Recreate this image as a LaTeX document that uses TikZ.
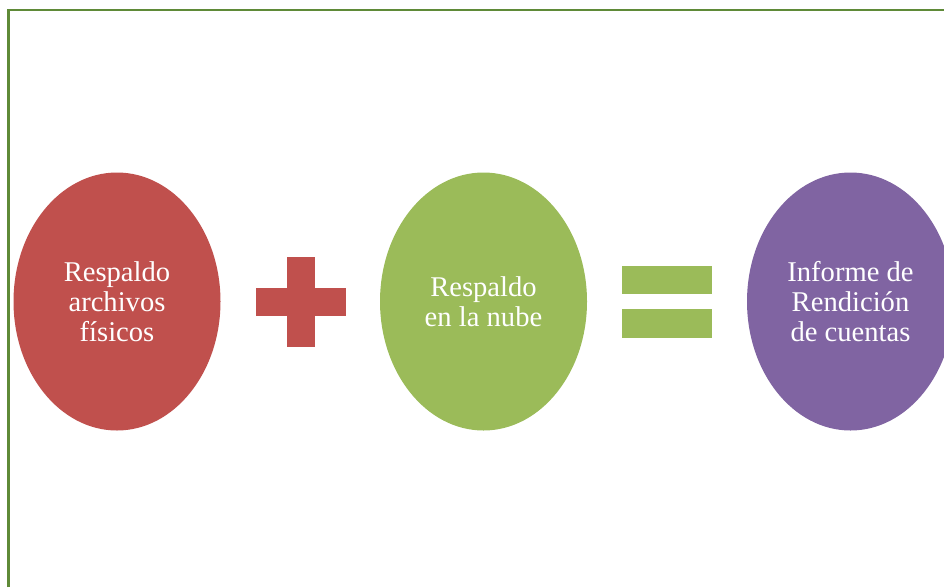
\documentclass[tikz,border=0pt]{standalone}
\usepackage{fontspec}
\setmainfont{Liberation Serif}
\usetikzlibrary{shapes.geometric}
\definecolor{cred}{HTML}{C0504D}
\definecolor{cgreen}{HTML}{9BBB59}
\definecolor{cpurple}{HTML}{8064A2}
\definecolor{cborder}{HTML}{5F8A38}
\tikzset{
  bubble/.style={ellipse, minimum width=207pt, minimum height=258pt, inner sep=0pt,
    text=white, align=center, font=\fontsize{28.6}{30}\selectfont},
}
\begin{document}
\begin{tikzpicture}[x=1pt,y=-1pt]
\useasboundingbox (0,0) rectangle (944,587);
\clip (0,0) rectangle (944,587);
\fill[white] (0,0) rectangle (944,587);
% border
\draw[cborder, line width=2.6pt] (8.6,587) -- (8.6,9.8) -- (944,9.8);
% bubbles
\node[bubble, fill=cred] (a) at (117,301.5) {Respaldo\\archivos\\físicos};
\node[bubble, fill=cgreen] (b) at (483.5,301.5) {Respaldo\\en la nube};
\node[bubble, fill=cpurple] (c) at (850.5,301.5) {Informe de\\Rendición\\de cuentas};
% plus
\fill[cred] (286.7,256.7) rectangle (315.3,346.7);
\fill[cred] (256,287.7) rectangle (345.7,316);
% equals
\fill[cgreen] (622.3,266) rectangle (711.7,294.3);
\fill[cgreen] (622.3,309) rectangle (711.7,337.7);
\end{tikzpicture}
\end{document}
